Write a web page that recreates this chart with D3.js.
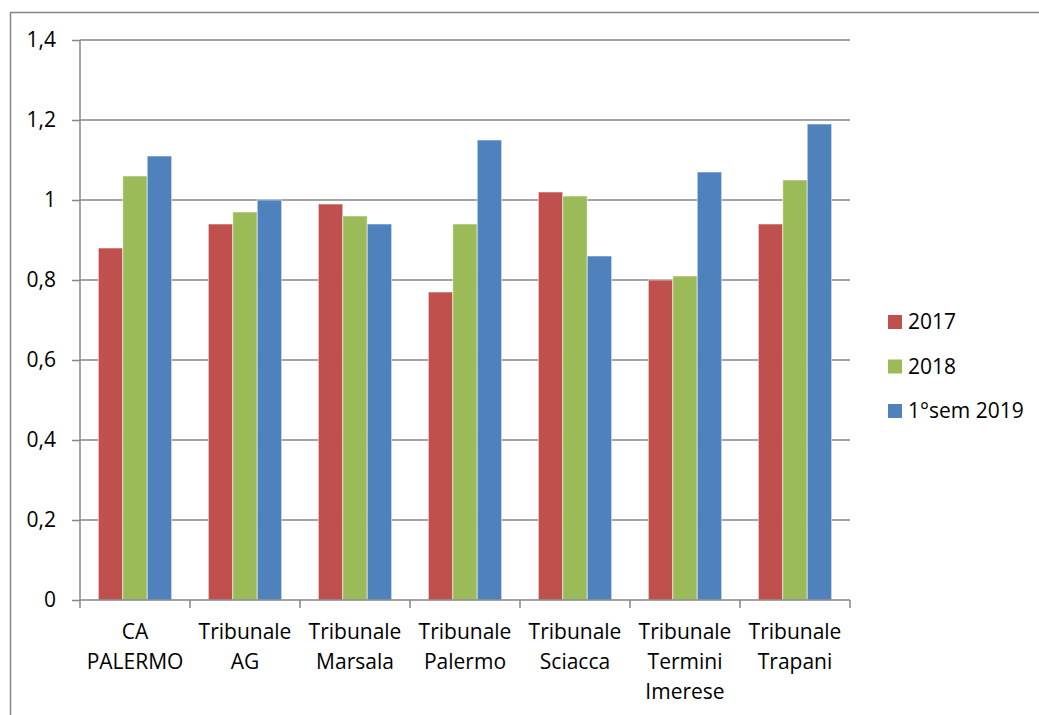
<!DOCTYPE html>
<html>
<head>
<meta charset="utf-8">
<script src="https://cdn.jsdelivr.net/npm/d3@7"></script>
<style>
  body { margin: 0; background: #fff; }
  text { font-family: "Open Sans", sans-serif; fill: #000; }
</style>
</head>
<body>
<svg width="1039" height="715"></svg>
<script>
// data
var categories = [
    ["CA", "PALERMO"],
    ["Tribunale", "AG"],
    ["Tribunale", "Marsala"],
    ["Tribunale", "Palermo"],
    ["Tribunale", "Sciacca"],
    ["Tribunale", "Termini", "Imerese"],
    ["Tribunale", "Trapani"]
]
var seriesNames = ["2017", "2018", "1°sem 2019"]
var values2017 = [0.88, 0.94, 0.99, 0.77, 1.02, 0.80, 0.94]
var values2018 = [1.06, 0.97, 0.96, 0.94, 1.01, 0.81, 1.05]
var values2019 = [1.11, 1.00, 0.94, 1.15, 0.86, 1.07, 1.19]
var yTicks = [0, 0.2, 0.4, 0.6, 0.8, 1, 1.2, 1.4]
var colors = ["#C0504D", "#9BBB59", "#4F81BD"]

var series = [values2017, values2018, values2019]

var svg = d3.select("svg")
var plotLeft = 80, plotRight = 850, plotTop = 40, plotBottom = 600
var fontSize = "21px"

// outer chart frame (only top and left visible)
svg.append("path")
    .attr("d", "M10.5,715 V12.5 H1039")
    .style("fill", "none")
    .style("stroke", "#868686")
    .style("stroke-width", 1.5)

var keys = categories.map(function (c, i) { return i; })
var x0 = d3.scaleBand().domain(keys).range([plotLeft, plotRight]).paddingInner(1 / 3).paddingOuter(1 / 6)
var x1 = d3.scaleBand().domain([0, 1, 2]).range([0, x0.bandwidth()])
var xAxisScale = d3.scaleBand().domain(keys).range([plotLeft, plotRight])
var y = d3.scaleLinear().domain([0, 1.4]).range([plotBottom, plotTop])

var fmt = function (d) { return String(d).replace(".", ","); }

// gridlines
svg.append("g")
    .selectAll("line")
    .data(yTicks.slice(1))
    .enter()
    .append("line")
    .attr("x1", plotLeft).attr("x2", plotRight)
    .attr("y1", function (d) { return y(d); })
    .attr("y2", function (d) { return y(d); })
    .style("stroke", "#868686")
    .style("stroke-width", 1.5)

// bars
var groups = svg.append("g")
    .selectAll("g")
    .data(series)
    .enter()
    .append("g")
    .style("fill", function (d, i) { return colors[i]; })

groups.selectAll("rect")
    .data(function (d, i) { return d.map(function (v, k) { return { s: i, k: k, v: v }; }); })
    .enter()
    .append("rect")
    .attr("x", function (d) { return x0(d.k) + x1(d.s); })
    .attr("width", x1.bandwidth())
    .attr("y", function (d) { return y(d.v); })
    .attr("height", function (d) { return y(0) - y(d.v); })
    .style("stroke", "rgba(255,255,255,0.55)")
    .style("stroke-width", 1)

// y axis
var yAxis = svg.append("g")
    .attr("transform", "translate(" + plotLeft + ",0)")
    .call(d3.axisLeft(y).tickValues(yTicks).tickSize(8).tickPadding(16).tickFormat(fmt))
yAxis.select(".domain").attr("d", "M0," + plotTop + "V" + plotBottom)
yAxis.selectAll("line, path").style("stroke", "#868686").style("stroke-width", 1.5)
yAxis.selectAll("text").style("font-size", fontSize).attr("font-family", null)
yAxis.attr("font-family", null).attr("font-size", null)

// x axis
var xAxis = svg.append("g")
    .attr("transform", "translate(0," + plotBottom + ")")
    .call(d3.axisBottom(xAxisScale).tickSize(0).tickFormat(""))
xAxis.select(".domain").attr("d", "M" + plotLeft + ",0H" + plotRight)
xAxis.selectAll("line, path").style("stroke", "#868686").style("stroke-width", 1.5)

svg.append("g")
    .selectAll("line")
    .data(d3.range(categories.length + 1))
    .enter()
    .append("line")
    .attr("x1", function (d) { return plotLeft + d * xAxisScale.step(); })
    .attr("x2", function (d) { return plotLeft + d * xAxisScale.step(); })
    .attr("y1", plotBottom).attr("y2", plotBottom + 8)
    .style("stroke", "#868686")
    .style("stroke-width", 1.5)

svg.append("g")
    .selectAll("text")
    .data(categories)
    .enter()
    .append("text")
    .attr("text-anchor", "middle")
    .style("font-size", fontSize)
    .attr("x", function (d, i) { return xAxisScale(i) + xAxisScale.bandwidth() / 2; })
    .attr("y", 639)
    .selectAll("tspan")
    .data(function (d) { return d; })
    .enter()
    .append("tspan")
    .attr("x", function () { return this.parentNode.getAttribute("x"); })
    .attr("dy", function (d, i) { return i === 0 ? 0 : 30; })
    .text(function (d) { return d; })

// legend
var legend = svg.append("g")
    .selectAll("g")
    .data(seriesNames)
    .enter()
    .append("g")
    .attr("transform", function (d, i) { return "translate(888," + (322 + i * 44.5) + ")"; })

legend.append("rect")
    .attr("x", 0).attr("y", -7)
    .attr("width", 14).attr("height", 14)
    .style("fill", function (d, i) { return colors[i]; })

legend.append("text")
    .attr("x", 20)
    .attr("dy", "0.35em")
    .style("font-size", fontSize)
    .text(function (d) { return d; })
</script>
</body>
</html>
